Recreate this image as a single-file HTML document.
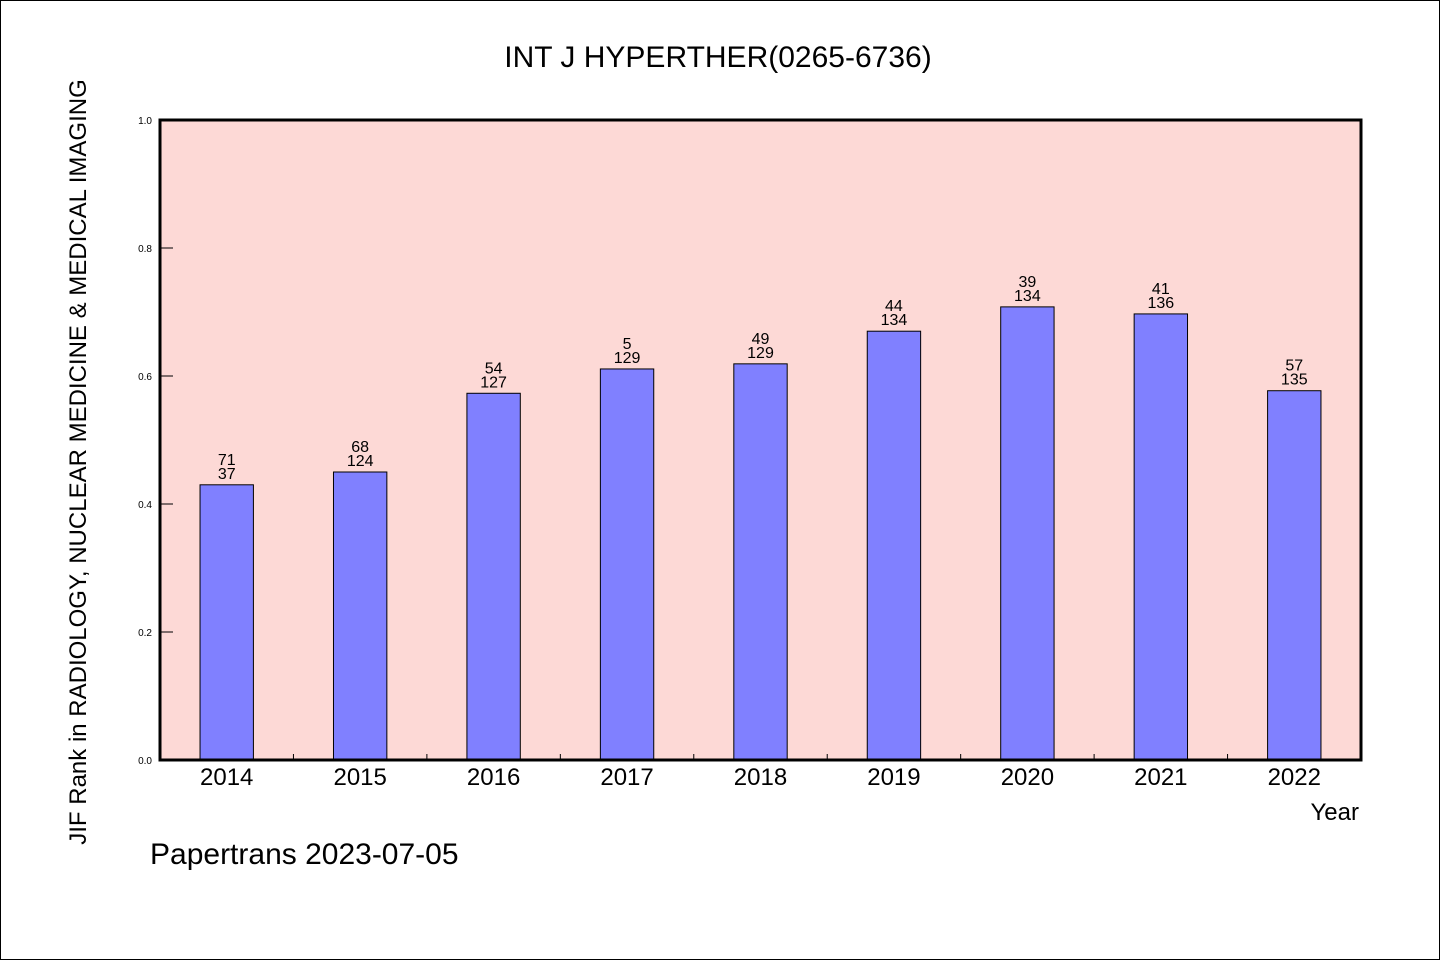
<!DOCTYPE html>
<html><head><meta charset="utf-8"><style>
html,body{margin:0;padding:0;background:#fff}
svg{display:block}
text{font-family:"WenQuanYi Zen Hei","Liberation Sans",sans-serif;fill:#000}
</style></head><body>
<svg id="chart" width="1440" height="960" xmlns="http://www.w3.org/2000/svg">
<rect x="0.5" y="0.5" width="1439" height="959" fill="#fff" stroke="#000"/>
<text x="718" y="67" font-size="30" text-anchor="middle">INT J HYPERTHER(0265-6736)</text>
<rect x="160" y="120" width="1201" height="640" fill="#fdd9d6"/>
<g id="ticks"></g>
<g id="bars"></g>
<rect x="160" y="120" width="1201" height="640" fill="none" stroke="#000" stroke-width="3"/>
<text x="1359" y="820" font-size="24" text-anchor="end">Year</text>
<text transform="translate(86,462) rotate(-90)" font-size="24" text-anchor="middle">JIF Rank in RADIOLOGY, NUCLEAR MEDICINE &amp; MEDICAL IMAGING</text>
<text x="150" y="864" font-size="30">Papertrans 2023-07-05</text>
</svg>
<script>
const categories=["2014","2015","2016","2017","2018","2019","2020","2021","2022"];
const values=[0.43,0.45,0.573,0.611,0.619,0.670,0.708,0.697,0.577];
const topLabels=["71","68","54","5","49","44","39","41","57"];
const bottomLabels=["37","124","127","129","129","134","134","136","135"];
const yTicks=[0,0.2,0.4,0.6,0.8,1.0];
const yTickLabels=["0.0","0.2","0.4","0.6","0.8","1.0"];
const NS="http://www.w3.org/2000/svg";
const X0=160,X1=1361,Y0=760,Y1=120;
const band=(X1-X0)/categories.length;
const xc=i=>X0+band*(i+0.5);
const ys=v=>Y0-(v)*(Y0-Y1);
function mk(t,a,p){const e=document.createElementNS(NS,t);for(const k in a)e.setAttribute(k,a[k]);p.appendChild(e);return e;}
const tg=document.getElementById('ticks'),bg=document.getElementById('bars');
yTicks.forEach((v,i)=>{
 const l=mk('line',{x1:X0,x2:X0+13,y1:ys(v),y2:ys(v),stroke:'#000','stroke-width':1},tg);
 
 
 const t=mk('text',{x:152,y:ys(v)+4,'font-size':10,'text-anchor':'end'},tg);
 t.textContent=yTickLabels[i];
 
 
});
for(let i=1;i<categories.length;i++){
 const l=mk('line',{x1:X0+band*i,x2:X0+band*i,y1:Y0,y2:Y0-6,stroke:'#000','stroke-width':1},tg);
 
 
}
const bw=band*0.4;
categories.forEach((c,i)=>{
 const y=ys(values[i]);
 const r=mk('rect',{x:xc(i)-bw/2,y:y,width:bw,height:Y0-y,fill:'#8080ff',stroke:'#000','stroke-width':1},bg);
 
 
 const t1=mk('text',{x:xc(i),y:y-20,'font-size':16,'text-anchor':'middle'},bg);
 t1.textContent=topLabels[i];
 
 
 const t2=mk('text',{x:xc(i),y:y-6,'font-size':16,'text-anchor':'middle'},bg);
 t2.textContent=bottomLabels[i];
 
 
 const xl=mk('text',{x:xc(i),y:785,'font-size':24,'text-anchor':'middle'},bg);
 xl.textContent=c;
 
 
});
</script>
</body></html>
